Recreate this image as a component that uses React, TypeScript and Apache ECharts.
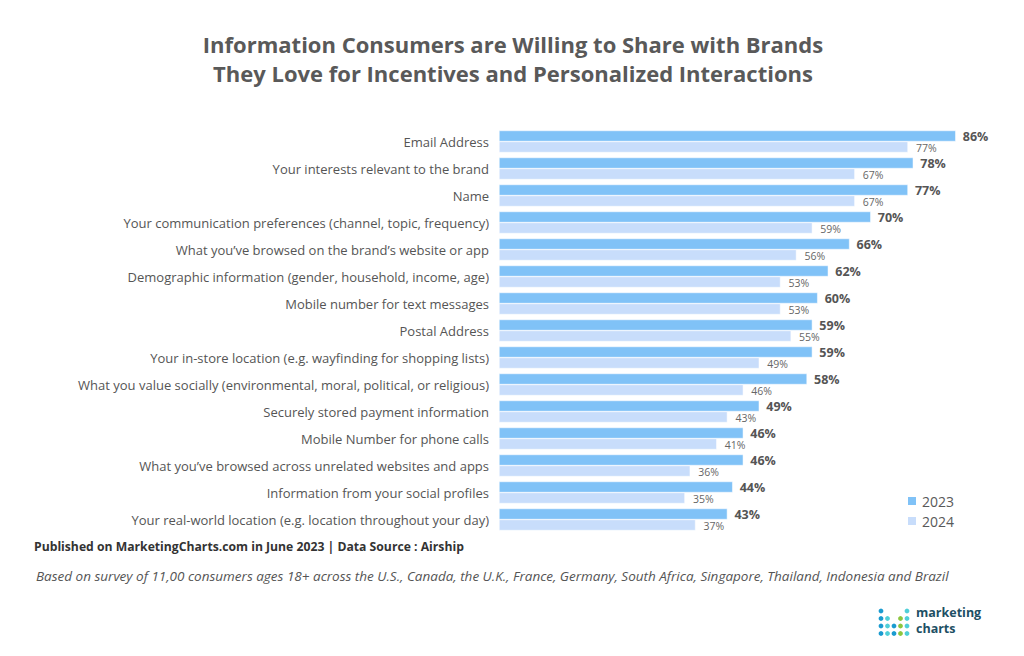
import React, { useEffect, useRef } from "react";
import * as echarts from "echarts";

const categories = [
  "Email Address",
  "Your interests relevant to the brand",
  "Name",
  "Your communication preferences (channel, topic, frequency)",
  "What you\u2019ve browsed on the brand\u2019s website or app",
  "Demographic information (gender, household, income, age)",
  "Mobile number for text messages",
  "Postal Address",
  "Your in-store location (e.g. wayfinding for shopping lists)",
  "What you value socially (environmental, moral, political, or religious)",
  "Securely stored payment information",
  "Mobile Number for phone calls",
  "What you\u2019ve browsed across unrelated websites and apps",
  "Information from your social profiles",
  "Your real-world location (e.g. location throughout your day)",
];
const values2023 = [86, 78, 77, 70, 66, 62, 60, 59, 59, 58, 49, 46, 46, 44, 43];
const values2024 = [77, 67, 67, 59, 56, 53, 53, 55, 49, 46, 43, 41, 36, 35, 37];

const FONT = "'Open Sans', sans-serif";

const dotRows: [number, number, string][] = [
  [0, 0, "#1a9bd0"], [4, 0, "#4fcfd8"],
  [0, 1, "#1a9bd0"], [1, 1, "#4fcfd8"], [3, 1, "#8cc63f"], [4, 1, "#4fcfd8"],
  [0, 2, "#1a9bd0"], [1, 2, "#4fcfd8"], [2, 2, "#1a9bd0"], [3, 2, "#8cc63f"], [4, 2, "#4fcfd8"],
  [0, 3, "#1a9bd0"], [1, 3, "#4fcfd8"], [2, 3, "#1a9bd0"], [3, 3, "#8cc63f"], [4, 3, "#4fcfd8"],
];

export default function App() {
  const ref = useRef<HTMLDivElement>(null);
  useEffect(() => {
    if (!ref.current) return;
    const chart = echarts.init(ref.current, null, { renderer: "svg" });
    const dots = dotRows.map(([c, r, color]) => ({
      type: "circle",
      shape: { cx: 881 + c * 6.5, cy: 611 + r * 7.5, r: 2.4 },
      style: { fill: color },
    }));
    chart.setOption({
      animation: false,
      backgroundColor: "#ffffff",
      title: {
        text: "Information Consumers are Willing to Share with Brands\nThey Love for Incentives and Personalized Interactions",
        left: 508,
        textAlign: "center",
        top: 24,
        textStyle: {
          fontFamily: FONT,
          fontSize: 22,
          fontWeight: "bold",
          color: "#595959",
          lineHeight: 29,
        },
      },
      legend: {
        orient: "vertical",
        left: 901,
        top: 489,
        itemWidth: 10,
        itemHeight: 10,
        itemGap: 6,
        icon: "rect",
        textStyle: { fontFamily: FONT, fontSize: 14, color: "#595959" },
        data: ["2023", "2024"],
      },
      grid: { left: 499, top: 128, width: 478, height: 405, containLabel: false },
      xAxis: {
        type: "value",
        min: 0,
        max: 90,
        show: false,
      },
      yAxis: {
        type: "category",
        data: categories,
        inverse: true,
        axisLine: { show: false },
        axisTick: { show: false },
        axisLabel: {
          fontFamily: FONT,
          fontSize: 13,
          color: "#555555",
          margin: 10,
        },
      },
      series: [
        {
          name: "2023",
          type: "bar",
          data: values2023,
          barWidth: 11,
          barGap: "0%",
          itemStyle: { color: "#80c2f7", borderColor: "#ffffff", borderWidth: 0.5 },
          label: {
            show: true,
            position: "right",
            distance: 7,
            formatter: "{c}%",
            fontFamily: FONT,
            fontSize: 12.5,
            fontWeight: "bold",
            color: "#555555",
          },
        },
        {
          name: "2024",
          type: "bar",
          data: values2024,
          barWidth: 11,
          itemStyle: { color: "#c8ddfb", borderColor: "#ffffff", borderWidth: 0.5 },
          label: {
            show: true,
            position: "right",
            distance: 8,
            formatter: "{c}%",
            fontFamily: FONT,
            fontSize: 10.5,
            color: "#666666",
            offset: [0, 1],
          },
        },
      ],
      graphic: [
        {
          type: "text",
          left: 34,
          top: 540,
          style: {
            text: "Published on MarketingCharts.com in June 2023 | Data Source : Airship",
            font: `bold 12.2px ${FONT}`,
            fill: "#333333",
          },
        },
        {
          type: "text",
          left: 36,
          top: 569,
          style: {
            text: "Based on survey of 11,00 consumers ages 18+ across the U.S., Canada, the U.K., France, Germany, South Africa, Singapore, Thailand, Indonesia and Brazil",
            font: `italic 13.5px ${FONT}`,
            fill: "#555555",
          },
        },
        ...dots,
        {
          type: "text",
          left: 916,
          top: 606,
          style: { text: "marketing", font: `bold 12.5px ${FONT}`, fill: "#1d4f64" },
        },
        {
          type: "text",
          left: 916,
          top: 622,
          style: { text: "charts", font: `bold 12.5px ${FONT}`, fill: "#1d4f64" },
        },
      ],
    });
    return () => chart.dispose();
  }, []);
  return <div ref={ref} style={{ width: 1024, height: 656, position: "absolute", left: 0, top: 0 }} />;
}
